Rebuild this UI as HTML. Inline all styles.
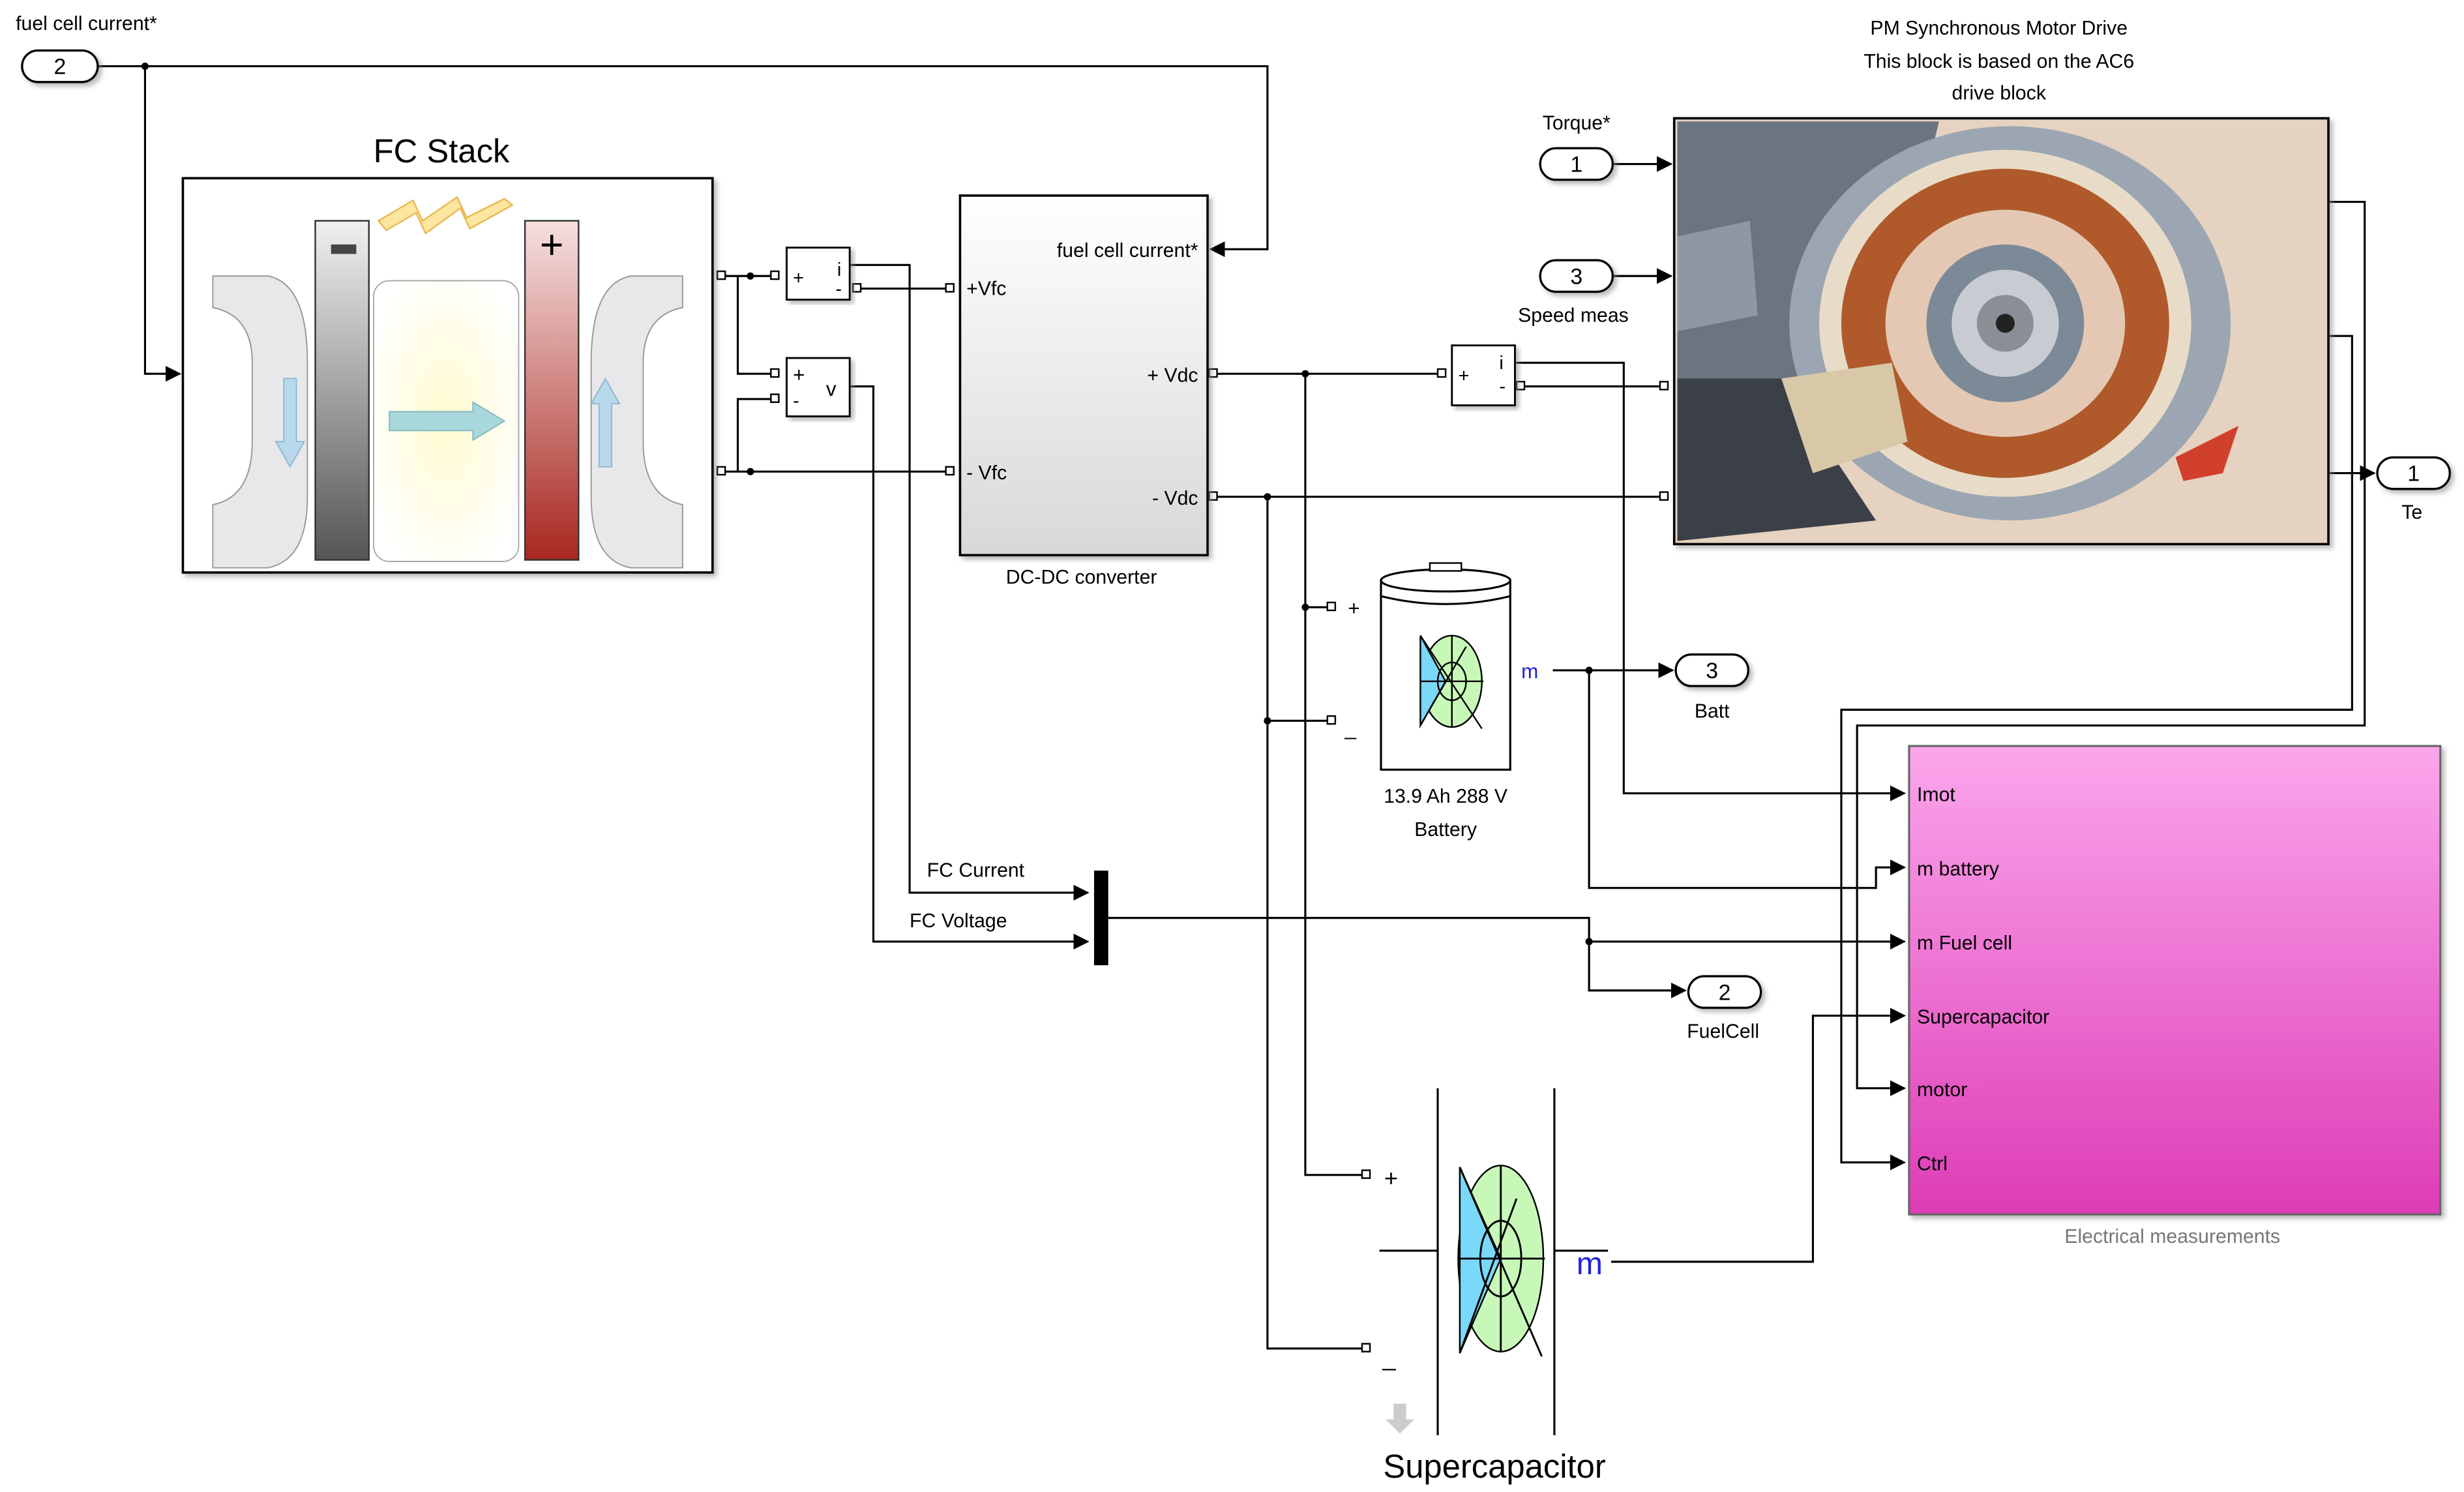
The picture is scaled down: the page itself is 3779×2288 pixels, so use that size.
<!DOCTYPE html>
<html><head><meta charset="utf-8"><style>
html,body{margin:0;padding:0;background:#fff;overflow:hidden}
svg{display:block}
text{font-family:"Liberation Sans",sans-serif;fill:#000}
</style></head><body>
<svg width="3779" height="2288" viewBox="0 0 1563 946" preserveAspectRatio="none" xmlns="http://www.w3.org/2000/svg">
<defs>
<marker id="a" markerWidth="10" markerHeight="10" refX="9" refY="5" orient="auto" markerUnits="userSpaceOnUse"><path d="M0,0 L10,5 L0,10 z" fill="#000"/></marker>
<linearGradient id="dc" x1="0" y1="0" x2="0" y2="1"><stop offset="0" stop-color="#fff"/><stop offset="1" stop-color="#d8d8d8"/></linearGradient>
<linearGradient id="em" x1="0" y1="0" x2="0" y2="1"><stop offset="0" stop-color="#fba6ec"/><stop offset="1" stop-color="#dd3cb6"/></linearGradient>
<linearGradient id="neg" x1="0" y1="0" x2="0" y2="1"><stop offset="0" stop-color="#f0f0f0"/><stop offset="1" stop-color="#555"/></linearGradient>
<linearGradient id="pos" x1="0" y1="0" x2="0" y2="1"><stop offset="0" stop-color="#f6e0e0"/><stop offset="1" stop-color="#a82820"/></linearGradient>
<radialGradient id="glow" cx="0.5" cy="0.5" r="0.6"><stop offset="0" stop-color="#fffbd0"/><stop offset="1" stop-color="#fff"/></radialGradient>
<filter id="sh"><feDropShadow dx="2" dy="2" stdDeviation="1.5" flood-color="#888" flood-opacity="0.6"/></filter>
</defs>

<g stroke="#000" stroke-width="1.3" fill="none">
<path d="M62,42 H804 V158 H768" marker-end="url(#a)"/>
<path d="M92,42 V237 H114" marker-end="url(#a)"/>
<path d="M458,175 H494"/>
<path d="M468,175 V237 H494"/>
<path d="M458,299 H604"/>
<path d="M468,299 V253 H494"/>
<path d="M544,183 H604"/>
<path d="M539,168 H577 V566 H690" marker-end="url(#a)"/>
<path d="M539,245 H554 V597 H690" marker-end="url(#a)"/>
<path d="M770,237 H917"/>
<path d="M828,237 V745 H866"/>
<path d="M828,385 H846"/>
<path d="M770,315 H1056"/>
<path d="M804,315 V855 H866"/>
<path d="M804,457 H846"/>
<path d="M966,245 H1056"/>
<path d="M961,230 H1030 V503 H1208" marker-end="url(#a)"/>
<path d="M1023,104 H1060" marker-end="url(#a)"/>
<path d="M1023,175 H1060" marker-end="url(#a)"/>
<path d="M1477,128 H1500 V460 H1178 V690 H1208" marker-end="url(#a)"/>
<path d="M1477,213 H1492 V450 H1168 V737 H1208" marker-end="url(#a)"/>
<path d="M1477,300 H1506" marker-end="url(#a)"/>
<path d="M985,425 H1061" marker-end="url(#a)"/>
<path d="M1008,425 V563 H1190 V550 H1208" marker-end="url(#a)"/>
<path d="M703,582 H1008 V597 H1208" marker-end="url(#a)"/>
<path d="M1008,597 V628 H1069" marker-end="url(#a)"/>
<path d="M1022,800 H1150 V644 H1208" marker-end="url(#a)"/>
</g>
<g fill="#000">
<circle cx="92" cy="42" r="2.3"/><circle cx="476" cy="175" r="2.3"/><circle cx="476" cy="299" r="2.3"/>
<circle cx="828" cy="237" r="2.3"/><circle cx="804" cy="315" r="2.3"/><circle cx="828" cy="385" r="2.3"/><circle cx="804" cy="457" r="2.3"/>
<circle cx="1008" cy="425" r="2.3"/><circle cx="1008" cy="597" r="2.3"/>
</g>
<g fill="#fff" stroke="#000" stroke-width="1">
<rect x="455" y="172" width="5" height="5"/><rect x="455" y="296" width="5" height="5"/>
<rect x="489" y="172" width="5" height="5"/><rect x="489" y="234" width="5" height="5"/><rect x="489" y="250" width="5" height="5"/>
<rect x="541" y="180" width="5" height="5"/>
<rect x="600" y="180" width="5" height="5"/><rect x="600" y="296" width="5" height="5"/>
<rect x="767" y="234" width="5" height="5"/><rect x="767" y="312" width="5" height="5"/>
<rect x="912" y="234" width="5" height="5"/><rect x="962" y="242" width="5" height="5"/>
<rect x="1053" y="242" width="5" height="5"/><rect x="1053" y="312" width="5" height="5"/>
<rect x="842" y="382" width="5" height="5"/><rect x="842" y="454" width="5" height="5"/>
<rect x="864" y="742" width="5" height="5"/><rect x="864" y="852" width="5" height="5"/>
</g>

<g fill="#fff" stroke="#000" stroke-width="1.4" filter="url(#sh)">
<rect x="14" y="32" width="48" height="20" rx="10"/>
<rect x="977" y="94" width="46" height="20" rx="10"/>
<rect x="977" y="165" width="46" height="20" rx="10"/>
<rect x="1508" y="290" width="46" height="20" rx="10"/>
<rect x="1063" y="415" width="46" height="20" rx="10"/>
<rect x="1071" y="619" width="46" height="20" rx="10"/>
</g>
<g font-size="14" text-anchor="middle">
<text x="38" y="47">2</text><text x="1000" y="109">1</text><text x="1000" y="180">3</text>
<text x="1531" y="305">1</text><text x="1086" y="430">3</text><text x="1094" y="634">2</text>
</g>
<g font-size="12.5">
<text x="10" y="19">fuel cell current*</text>
<text x="1000" y="82" text-anchor="middle">Torque*</text>
<text x="998" y="204" text-anchor="middle">Speed meas</text>
<text x="1530" y="329" text-anchor="middle">Te</text>
<text x="1086" y="455" text-anchor="middle">Batt</text>
<text x="1093" y="658" text-anchor="middle">FuelCell</text>
<text x="1268" y="22" text-anchor="middle">PM Synchronous Motor Drive</text>
<text x="1268" y="43" text-anchor="middle">This block is based on the AC6</text>
<text x="1268" y="63" text-anchor="middle">drive block</text>
<text x="588" y="556">FC Current</text>
<text x="577" y="588">FC Voltage</text>
<text x="686" y="370" text-anchor="middle">DC-DC converter</text>
<text x="917" y="509" text-anchor="middle">13.9 Ah 288 V</text>
<text x="917" y="530" text-anchor="middle">Battery</text>
</g>

<text x="280" y="103" font-size="21" text-anchor="middle">FC Stack</text>
<rect x="116" y="113" width="336" height="250" fill="#fff" stroke="#000" stroke-width="1.5" filter="url(#sh)"/>
<path d="M135,175 H170 Q195,180 195,230 V315 Q195,355 170,360 H135 V320 Q160,315 160,280 V230 Q160,200 135,195 Z" fill="#e8e8ea" stroke="#999" stroke-width="0.8"/>
<path d="M433,175 H400 Q375,180 375,230 V315 Q375,355 400,360 H433 V320 Q408,315 408,280 V230 Q408,200 433,195 Z" fill="#e8e8ea" stroke="#999" stroke-width="0.8"/>
<rect x="237" y="178" width="92" height="178" rx="10" fill="url(#glow)" stroke="#aaa" stroke-width="0.8"/>
<rect x="200" y="140" width="34" height="215" fill="url(#neg)" stroke="#333" stroke-width="1"/>
<rect x="333" y="140" width="34" height="215" fill="url(#pos)" stroke="#333" stroke-width="1"/>
<rect x="210" y="155" width="16" height="6" fill="#444"/>
<text x="350" y="164" font-size="26" text-anchor="middle" fill="#444">+</text>
<path d="M240,140 L262,127 L268,140 L290,125 L296,138 L320,126 L325,130 L298,145 L292,132 L270,148 L264,135 L245,146 Z" fill="#fde6a0" stroke="#e8b850" stroke-width="1"/>
<path d="M180,240 V280 L175,280 L184,296 L193,280 L188,280 V240 Z" fill="#b8d8ec" stroke="#90b8d0" stroke-width="0.8"/>
<path d="M380,296 V256 L375,256 L384,240 L393,256 L388,256 V296 Z" fill="#b8d8ec" stroke="#90b8d0" stroke-width="0.8"/>
<path d="M247,261 H300 V255 L320,267 L300,279 V273 H247 Z" fill="#a8d8dc" stroke="#88b8c0" stroke-width="0.8"/>

<rect x="499" y="157" width="40" height="33" fill="#fff" stroke="#000" stroke-width="1.2" filter="url(#sh)"/>
<text x="503" y="180" font-size="12">+</text><text x="531" y="175" font-size="12">i</text><text x="530" y="187" font-size="12">-</text>
<rect x="499" y="227" width="40" height="37" fill="#fff" stroke="#000" stroke-width="1.2" filter="url(#sh)"/>
<text x="503" y="242" font-size="13">+</text><text x="503" y="258" font-size="12">-</text><text x="524" y="251" font-size="13">v</text>
<rect x="921" y="219" width="40" height="38" fill="#fff" stroke="#000" stroke-width="1.2" filter="url(#sh)"/>
<text x="925" y="242" font-size="12">+</text><text x="951" y="234" font-size="12">i</text><text x="951" y="249" font-size="12">-</text>

<rect x="609" y="124" width="157" height="228" fill="url(#dc)" stroke="#000" stroke-width="1.5" filter="url(#sh)"/>
<g font-size="12.5">
<text x="760" y="163" text-anchor="end">fuel cell current*</text>
<text x="613" y="187">+Vfc</text><text x="613" y="304">- Vfc</text>
<text x="760" y="242" text-anchor="end">+ Vdc</text><text x="760" y="320" text-anchor="end">- Vdc</text>
</g>

<rect x="1062" y="75" width="415" height="270" fill="#e6d2c0" stroke="#000" stroke-width="1.5" filter="url(#sh)"/>
<path d="M1064,77 H1230 L1200,200 L1130,290 L1064,300 Z" fill="#6b7480"/>
<path d="M1064,240 L1130,240 L1190,330 L1064,343 Z" fill="#3a3f48"/>
<path d="M1064,150 L1110,140 L1115,200 L1064,210 Z" fill="#8e98a4"/>
<ellipse cx="1275" cy="205" rx="140" ry="125" fill="#9ba6b2"/>
<ellipse cx="1272" cy="205" rx="118" ry="110" fill="#e8dcc8"/>
<ellipse cx="1272" cy="205" rx="104" ry="98" fill="#b05a2c"/>
<ellipse cx="1272" cy="205" rx="76" ry="72" fill="#e4c8b4"/>
<ellipse cx="1272" cy="205" rx="50" ry="50" fill="#7c8a98"/>
<ellipse cx="1272" cy="205" rx="34" ry="34" fill="#c8ccd2"/>
<ellipse cx="1272" cy="205" rx="18" ry="18" fill="#8a8f96"/>
<circle cx="1272" cy="205" r="6" fill="#222"/>
<path d="M1130,240 L1200,230 L1210,280 L1150,300 Z" fill="#d8c8a8"/>
<path d="M1380,290 L1420,270 L1410,300 L1385,305 Z" fill="#d0402c"/>

<rect x="876" y="368" width="82" height="120" fill="#fff" stroke="#000" stroke-width="1.3"/>
<ellipse cx="917" cy="368" rx="41" ry="7" fill="#fff" stroke="#000" stroke-width="1.3"/>
<path d="M876,378 Q917,388 958,378" fill="none" stroke="#000" stroke-width="1.3"/>
<rect x="907" y="357" width="20" height="5" fill="#fff" stroke="#000"/>
<ellipse cx="921" cy="432" rx="19" ry="29" fill="#c8f8b8" stroke="#000"/>
<path d="M901,403 L901,460 L917,432 Z" fill="#7ad8f8" stroke="#000"/>
<path d="M901,403 L940,462 M901,460 L930,410 M901,432 H941 M921,403 V461" stroke="#000" fill="none"/>
<ellipse cx="921" cy="432" rx="9" ry="12" fill="none" stroke="#000"/>
<text x="965" y="430" font-size="13" style="fill:#2020e0">m</text>
<text x="855" y="390" font-size="13">+</text>
<text x="853" y="466" font-size="13">_</text>

<rect x="694" y="552" width="9" height="60" fill="#000"/>

<g stroke="#000" stroke-width="1.3" fill="none">
<path d="M912,690 V910 M986,690 V910 M875,793 H912 M986,793 H1020"/>
</g>
<ellipse cx="952" cy="798" rx="27" ry="59" fill="#c8f8b8" stroke="#000"/>
<path d="M926,740 L926,858 L952,798 Z" fill="#7ad8f8" stroke="#000"/>
<path d="M926,740 L978,860 M926,858 L962,760 M926,798 H980 M952,739 V857" stroke="#000" fill="none" stroke-width="1.2"/>
<ellipse cx="952" cy="798" rx="13" ry="24" fill="none" stroke="#000" stroke-width="1.2"/>
<text x="1000" y="808" font-size="20" style="fill:#2020e0">m</text>
<text x="878" y="752" font-size="15">+</text>
<text x="877" y="866" font-size="15">_</text>
<path d="M884,890 H892 V900 H897 L888,909 L879,900 H884 Z" fill="#ccc"/>
<text x="948" y="937" font-size="21" text-anchor="middle">Supercapacitor</text>

<rect x="1211" y="473" width="337" height="297" fill="url(#em)" stroke="#666" stroke-width="1.3" filter="url(#sh)"/>
<g font-size="12.5">
<text x="1216" y="508">Imot</text><text x="1216" y="555">m battery</text><text x="1216" y="602">m Fuel cell</text>
<text x="1216" y="649">Supercapacitor</text><text x="1216" y="695">motor</text><text x="1216" y="742">Ctrl</text>
</g>
<text x="1378" y="788" font-size="12.5" text-anchor="middle" style="fill:#777">Electrical measurements</text>
</svg>
</body></html>
